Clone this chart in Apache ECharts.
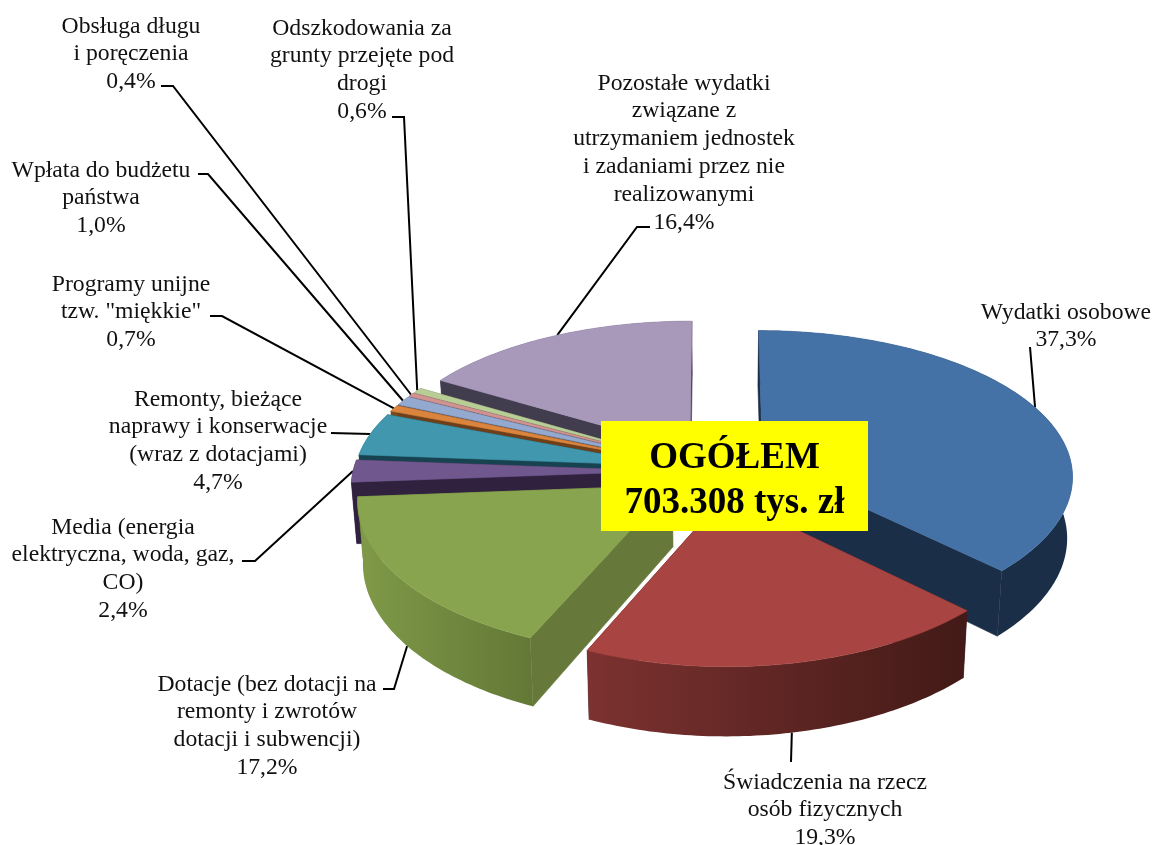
<!DOCTYPE html>
<html>
<head>
<meta charset="utf-8">
<style>
  html, body { margin: 0; padding: 0; background: #fff; }
  #chart { width: 1155px; height: 845px; }
</style>
<script src="https://cdn.jsdelivr.net/npm/echarts@6/dist/echarts.min.js"></script>
</head>
<body>
<div id="chart"></div>
<script>
// data
const categories = [
  "Wydatki osobowe",
  "Świadczenia na rzecz\nosób fizycznych",
  "Dotacje (bez dotacji na\nremonty i zwrotów\ndotacji i subwencji)",
  "Media (energia\nelektryczna, woda, gaz,\nCO)",
  "Remonty, bieżące\nnaprawy i konserwacje\n(wraz z dotacjami)",
  "Programy unijne\ntzw. \"miękkie\"",
  "Wpłata do budżetu\npaństwa",
  "Obsługa długu\ni poręczenia",
  "Odszkodowania za\ngrunty przejęte pod\ndrogi",
  "Pozostałe wydatki\nzwiązane z\nutrzymaniem jednostek\ni zadaniami przez nie\nrealizowanymi"
];
const shares = [37.3, 19.3, 17.2, 2.4, 4.7, 0.7, 1.0, 0.4, 0.6, 16.4];
const totalTitle = "OGÓŁEM";
const totalValue = "703.308 tys. zł";

// colours of top / outer wall (left, right) / cut wall
const topColors = ["#4472a6", "#a84442", "#89a44e", "#70588e", "#4097ae", "#db843d", "#93a9cf", "#d19392", "#b9cd96", "#a899bb"];
const wallLeft = ["#1b2e47", "#7c3230", "#7f9a48", "#30223f", "#174350", "#7a4a1e", "#52607a", "#7a5553", "#6a7754", "#423c4f"];
const wallRight = ["#1b2e47", "#421a17", "#637836", "#30223f", "#174350", "#7a4a1e", "#52607a", "#7a5553", "#6a7754", "#423c4f"];
const wallCut = ["#1b2e47", "#4a1c19", "#66793a", "#30223f", "#174350", "#6e3f18", "#52607a", "#7a5553", "#6a7754", "#423c4f"];

// label layout: centre x, top y, elbow points of the leader
const labelPos = [[1066, 298.5], [825, 768.5], [267, 670.5], [123, 513.5], [218, 385.5], [131, 270.5], [101, 156.5], [131, 12.5], [362, 14.5], [684, 69.5]];
const leaderPts = [
  [[1030, 347]],
  [[791, 762]],
  [[383, 689], [394, 689]],
  [[242, 561], [255, 561]],
  [[331, 433]],
  [[210, 316], [222, 316]],
  [[198, 174], [208, 174]],
  [[161, 86], [173, 86]],
  [[392, 117], [404, 117]],
  [[650, 227], [637, 227]]
];
// where on the slice rim the leader lands (0..1 along the slice), true = lower edge of wall
const leaderFrac = [0.5, 0.498, 0.485, 0.5, 0.5, 0.5, 0.5, 0.5, 0.5, 0.52];
const leaderLow = [false, true, true, false, false, false, false, false, false, false];

// pie geometry
const cx = 715, cy = 471, R = 310, explode = 52;
const tilt = 0.474, perspX = 0.0003, perspY = 0.000347, depth = 61, lowScale = 0.985;

const total = shares.reduce((a, b) => a + b, 0);
let cum = 0;
const slices = shares.map(function(v) {
  let a0 = cum / total * Math.PI * 2;
  cum += v;
  let a1 = cum / total * Math.PI * 2;
  return { a0, a1, mid: (a0 + a1) / 2 };
});
// draw back slices first
const drawRank = [];
slices.map((s, i) => i).sort((a, b) => Math.cos(slices[b].mid) - Math.cos(slices[a].mid))
  .forEach((idx, rank) => { drawRank[idx] = rank; });

function project(s, ang, r, low) {
  let wx = explode * Math.sin(s.mid) + r * Math.sin(ang);
  let wy = -(explode * Math.cos(s.mid) + r * Math.cos(ang));
  let px = 1 / (1 - perspX * wy);
  let py = 1 / (1 - perspY * wy);
  let x = wx * px;
  let y = wy * tilt * py;
  if (low) {
    x = x * lowScale;
    y = y + depth * py;
  }
  return [cx + x, cy + y];
}

function rimPoints(s, low) {
  let pts = [];
  let n = Math.max(2, Math.ceil((s.a1 - s.a0) / Math.PI * 180));
  for (let k = 0; k <= n; k++) {
    pts.push(project(s, s.a0 + (s.a1 - s.a0) * k / n, R, low));
  }
  return pts;
}

function renderSlice(params, api) {
  let i = api.value(0);
  let s = slices[i];
  let rank = drawRank[i] * 10;
  let apex = project(s, 0, 0, false), apexLow = project(s, 0, 0, true);
  let top = rimPoints(s, false), low = rimPoints(s, true);
  let cut = function(pts, ptsLow, z) {
    return {
      type: "polygon", z2: rank + z,
      shape: { points: [apex, pts, ptsLow, apexLow] },
      style: { fill: wallCut[i], stroke: wallCut[i], lineWidth: 0.6 }
    };
  };
  return {
    type: "group",
    children: [
      cut(top[0], low[0], 1),
      cut(top[top.length - 1], low[low.length - 1], 2),
      {
        type: "polygon", z2: rank + 3,
        shape: { points: top.concat(low.slice().reverse()) },
        style: {
          fill: new echarts.graphic.LinearGradient(0, 0, 1, 0, [
            { offset: 0, color: wallLeft[i] },
            { offset: 1, color: wallRight[i] }
          ])
        }
      },
      {
        type: "polygon", z2: rank + 4,
        shape: { points: [apex].concat(top) },
        style: { fill: topColors[i], stroke: topColors[i], lineWidth: 0.6 }
      }
    ]
  };
}

function renderLabel(params, api) {
  let i = api.value(0);
  let s = slices[i];
  let txt = categories[i] + "\n" + shares[i].toFixed(1).replace(".", ",") + "%";
  let end = project(s, s.a0 + (s.a1 - s.a0) * leaderFrac[i], R, leaderLow[i]);
  return {
    type: "group",
    children: [
      {
        type: "polyline",
        shape: { points: leaderPts[i].concat([end]) },
        style: { stroke: "#000", lineWidth: 2, fill: null }
      },
      {
        type: "text",
        x: labelPos[i][0], y: labelPos[i][1],
        style: {
          text: txt, fill: "#111",
          font: "23.7px 'Liberation Serif'",
          lineHeight: 27.8,
          align: "center", verticalAlign: "top"
        }
      }
    ]
  };
}

const chart = echarts.init(document.getElementById("chart"), null, { renderer: "canvas" });
const rows = shares.map((v, i) => [i, v]);
chart.setOption({
  backgroundColor: "#fff",
  animation: false,
  series: [
    { type: "custom", coordinateSystem: "none", z: 1, silent: true, data: rows, renderItem: renderLabel },
    { type: "custom", coordinateSystem: "none", z: 2, silent: true, data: rows, renderItem: renderSlice }
  ],
  graphic: [
    {
      type: "rect", z: 10, silent: true,
      shape: { x: 601, y: 421, width: 267, height: 110 },
      style: { fill: "#ffff00" }
    },
    {
      type: "text", z: 11, silent: true, x: 734.5, y: 480.5,
      style: {
        text: totalTitle + "\n" + totalValue, fill: "#000",
        font: "bold 37px 'Liberation Serif'", lineHeight: 45,
        align: "center", verticalAlign: "middle"
      }
    }
  ]
});
</script>
</body>
</html>
